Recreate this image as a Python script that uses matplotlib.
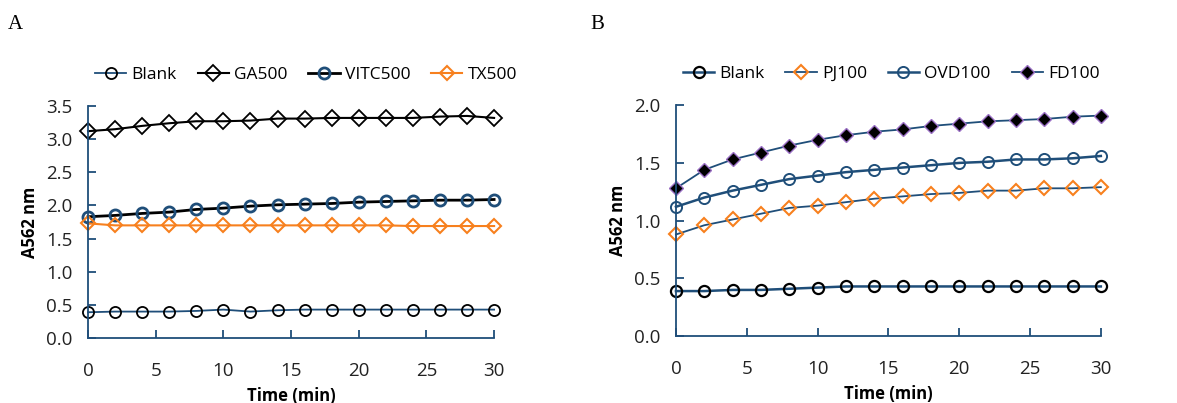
import matplotlib.pyplot as plt
from matplotlib.ticker import FormatStrFormatter

time = [0, 2, 4, 6, 8, 10, 12, 14, 16, 18, 20, 22, 24, 26, 28, 30]

# panel A
a_blank = [0.39, 0.40, 0.40, 0.40, 0.41, 0.43, 0.40, 0.42, 0.43, 0.43, 0.43, 0.43, 0.43, 0.43, 0.43, 0.43]
a_ga500 = [3.12, 3.15, 3.20, 3.24, 3.27, 3.27, 3.28, 3.31, 3.31, 3.32, 3.32, 3.32, 3.32, 3.34, 3.35, 3.32]
a_vitc500 = [1.83, 1.85, 1.88, 1.90, 1.94, 1.96, 1.99, 2.01, 2.02, 2.03, 2.05, 2.06, 2.07, 2.08, 2.08, 2.09]
a_tx500 = [1.73, 1.70, 1.70, 1.70, 1.70, 1.70, 1.70, 1.70, 1.70, 1.70, 1.70, 1.70, 1.69, 1.69, 1.69, 1.69]

# panel B
b_blank = [0.39, 0.39, 0.40, 0.40, 0.41, 0.42, 0.43, 0.43, 0.43, 0.43, 0.43, 0.43, 0.43, 0.43, 0.43, 0.43]
b_pj100 = [0.88, 0.96, 1.01, 1.06, 1.11, 1.13, 1.16, 1.19, 1.21, 1.23, 1.24, 1.26, 1.26, 1.28, 1.28, 1.29]
b_ovd100 = [1.12, 1.20, 1.26, 1.31, 1.36, 1.39, 1.42, 1.44, 1.46, 1.48, 1.50, 1.51, 1.53, 1.53, 1.54, 1.56]
b_fd100 = [1.28, 1.44, 1.53, 1.59, 1.65, 1.70, 1.74, 1.77, 1.79, 1.82, 1.84, 1.86, 1.87, 1.88, 1.90, 1.91]

NAVY = "#1F4E79"
ORANGE = "#F7801E"
PURPLE = "#9A6FC4"

plt.rcParams['font.family'] = ['Open Sans', 'DejaVu Sans']

fig = plt.figure(figsize=(11.77, 4.03), dpi=100)
axA = fig.add_axes([0.0748, 0.161, 0.345, 0.576])
axB = fig.add_axes([0.5743, 0.166, 0.361, 0.573])

# A
axA.plot(time, a_blank, color=NAVY, lw=1.3, marker="o", ms=8, mfc="none", mec="black", mew=1.3,
         label="Blank", clip_on=False)
axA.plot(time, a_ga500, color="black", lw=1.5, marker="D", ms=8, mfc="none", mec="black", mew=1.3,
         label="GA500", clip_on=False)
axA.plot(time, a_vitc500, color="black", lw=2.0, marker="o", ms=8, mfc="none", mec=NAVY, mew=2.0,
         label="VITC500", clip_on=False)
axA.plot(time, a_tx500, color=ORANGE, lw=1.5, marker="D", ms=7.5, mfc="none", mec=ORANGE, mew=1.5,
         label="TX500", clip_on=False)
axA.set_ylim(0, 3.5)
axA.set_yticks([0, 0.5, 1.0, 1.5, 2.0, 2.5, 3.0, 3.5])

# B
axB.plot(time, b_blank, color=NAVY, lw=1.8, marker="o", ms=8, mfc="none", mec="black", mew=1.6,
         label="Blank", clip_on=False)
axB.plot(time, b_pj100, color=NAVY, lw=1.3, marker="D", ms=7.5, mfc="none", mec=ORANGE, mew=1.5,
         label="PJ100", clip_on=False)
axB.plot(time, b_ovd100, color=NAVY, lw=1.8, marker="o", ms=8, mfc="none", mec=NAVY, mew=1.4,
         label="OVD100", clip_on=False)
axB.plot(time, b_fd100, color=NAVY, lw=1.3, marker="D", ms=7, mfc="black", mec=PURPLE, mew=1.0,
         label="FD100", clip_on=False)
axB.set_ylim(0, 2.0)
axB.set_yticks([0, 0.5, 1.0, 1.5, 2.0])

for ax in (axA, axB):
    ax.set_xlim(0, 30)
    ax.set_xticks([0, 5, 10, 15, 20, 25, 30])
    ax.yaxis.set_major_formatter(FormatStrFormatter("%.1f"))
    for side in ("top", "right"):
        ax.spines[side].set_visible(False)
    for side in ("left", "bottom"):
        ax.spines[side].set_color(NAVY)
        ax.spines[side].set_linewidth(1.3)
    ax.tick_params(direction="in", length=6, width=1.3, color=NAVY, labelsize=13.5, labelcolor="#222222")
    ax.tick_params(axis="x", pad=17)
    ax.tick_params(axis="y", pad=11)
    ax.set_xlabel("Time (min)", fontsize=12, fontweight="bold", labelpad=5)
    ax.set_ylabel("A562 nm", fontsize=12, fontweight="bold", labelpad=5)
    ax.legend(loc="lower left", bbox_to_anchor=(0.0, 1.07), ncol=4, frameon=False, fontsize=12.5,
              handlelength=1.8, handletextpad=0.3, columnspacing=1.2, borderaxespad=0)

fig.text(0.007, 0.94, "A", fontsize=15, family="Liberation Serif", va="center")
fig.text(0.502, 0.94, "B", fontsize=15, family="Liberation Serif", va="center")

fig.savefig("out.png", dpi=100)
